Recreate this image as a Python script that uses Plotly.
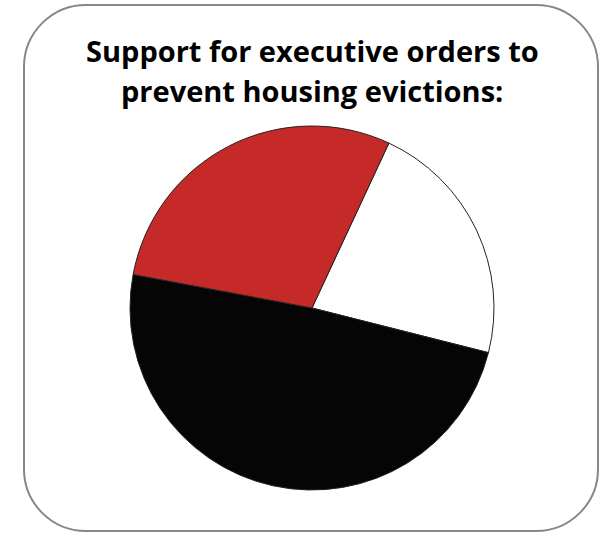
import plotly.graph_objects as go

# Survey responses (percent)
labels = ["Oppose", "Support", "Not sure"]
values = [22, 49, 29]
colors = ["#ffffff", "#050505", "#c62a28"]

title_lines = ["Support for executive orders to", "prevent housing evictions:"]

W, H = 605, 534

fig = go.Figure(
    go.Pie(
        labels=labels,
        values=values,
        sort=False,
        direction="clockwise",
        rotation=25,
        marker=dict(colors=colors, line=dict(color="#222222", width=1)),
        textinfo="none",
        hoverinfo="label+percent",
        showlegend=False,
        domain=dict(x=[130 / W, 494 / W], y=[1 - 490 / H, 1 - 126 / H]),
    )
)

# Rounded card outline (pixel coordinates mapped to paper units)
x0, x1, y0, y1, r = 24, 598, 5, 531, 62
k = 0.5523 * r


def px(x):
    return x / W


def py(y):
    return 1 - y / H


def P(x, y):
    return f"{px(x):.5f},{py(y):.5f}"


path = (
    f"M {P(x0 + r, y0)} L {P(x1 - r, y0)} "
    f"C {P(x1 - r + k, y0)} {P(x1, y0 + r - k)} {P(x1, y0 + r)} "
    f"L {P(x1, y1 - r)} "
    f"C {P(x1, y1 - r + k)} {P(x1 - r + k, y1)} {P(x1 - r, y1)} "
    f"L {P(x0 + r, y1)} "
    f"C {P(x0 + r - k, y1)} {P(x0, y1 - r + k)} {P(x0, y1 - r)} "
    f"L {P(x0, y0 + r)} "
    f"C {P(x0, y0 + r - k)} {P(x0 + r - k, y0)} {P(x0 + r, y0)} Z"
)

fig.add_shape(
    type="path",
    path=path,
    xref="paper",
    yref="paper",
    line=dict(color="#86868c", width=2),
    layer="below",
)

# Two-line title, each line placed separately for the wider line gap
title_centers = [50, 91]
for line, yc in zip(title_lines, title_centers):
    fig.add_annotation(
        text=f"<b>{line}</b>",
        x=px(312.5),
        y=py(yc),
        xref="paper",
        yref="paper",
        xanchor="center",
        yanchor="middle",
        showarrow=False,
        font=dict(family="'Open Sans', sans-serif", size=29, color="#000000"),
    )

fig.update_layout(
    width=W,
    height=H,
    margin=dict(l=0, r=0, t=0, b=0),
    paper_bgcolor="#ffffff",
    plot_bgcolor="#ffffff",
)

fig.write_html("out.html")
